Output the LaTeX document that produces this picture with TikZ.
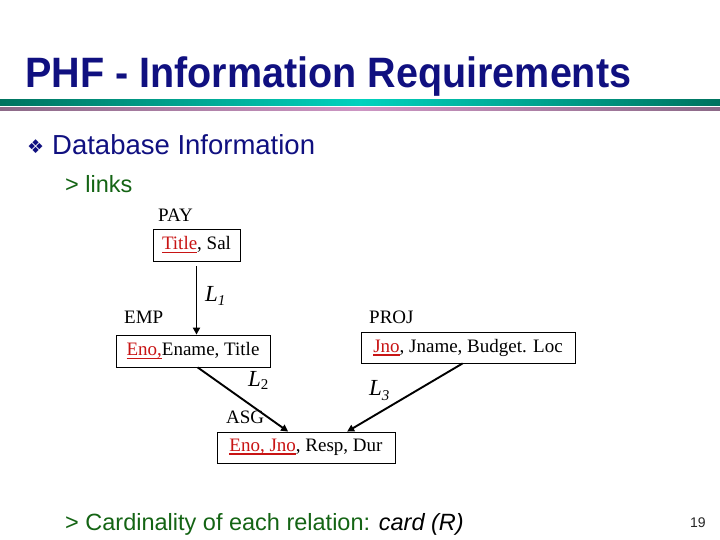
\documentclass[tikz,border=0pt]{standalone}
\usepackage{fontspec}
\setmainfont{Liberation Sans}
\newfontfamily\timesf{Liberation Serif}
\newfontfamily\djv{DejaVu Sans}
\usetikzlibrary{arrows.meta,calc}
\definecolor{navy}{RGB}{16,16,128}
\definecolor{dgreen}{RGB}{20,100,20}
\definecolor{tealdark}{RGB}{0,115,95}
\definecolor{tealmid}{RGB}{0,210,190}
\definecolor{mauvedark}{RGB}{140,105,135}
\definecolor{mauvemid}{RGB}{205,150,195}
\definecolor{keyred}{RGB}{200,20,20}
\newlength\keywd
\newcommand{\keyu}[1]{\settowidth{\keywd}{#1}\textcolor{keyred}{\rlap{\rule[-3.5pt]{\keywd}{1.8pt}}#1}}
\begin{document}
\begin{tikzpicture}[x=1pt,y=-1pt,
  relbox/.style={draw,line width=0.8pt,inner sep=0pt,font=\timesf\fontsize{19}{22}\selectfont},
  lbl/.style={anchor=base west,inner sep=0pt,font=\timesf\fontsize{19}{22}\selectfont},
  link/.style={line width=1.9pt,-{Triangle[length=7pt,width=7pt]}},
  llab/.style={anchor=base west,inner sep=0pt,font=\timesf\itshape\fontsize{23}{26}\selectfont}]
\useasboundingbox (0,0) rectangle (720,540);
% title
\node[anchor=base west,inner sep=0pt,text=navy,font=\bfseries\fontsize{42.5}{48}\selectfont] (title) at (25,88) {\scalebox{0.93}[1]{PHF - Information Requirements}};
% bands
\shade[left color=tealdark,right color=tealdark,middle color=tealmid] (0,100) rectangle (720,106);
\shade[left color=mauvedark,right color=mauvedark,middle color=mauvemid] (0,108) rectangle (720,111);
% bullets
\node[anchor=base west,inner sep=0pt,text=navy,font=\djv\fontsize{19}{22}\selectfont] (bul) at (27,154) {❖};
\node[anchor=base west,inner sep=0pt,text=navy,font=\fontsize{27.5}{32}\selectfont] (dbi) at (52,155) {Database Information};
\node[anchor=base west,inner sep=0pt,text=dgreen,font=\fontsize{23.5}{28}\selectfont] (links) at (65,193) {> links};
% relations
\node[lbl] (payl) at (158,222) {PAY};
\node[relbox,minimum width=87pt,minimum height=32pt] (pay) at (196.5,245) {\keyu{Title}, Sal};
\node[lbl] (empl) at (124,323) {EMP};
\node[relbox,minimum width=154pt,minimum height=32pt] (emp) at (193,351) {\keyu{Eno,}Ename, Title};
\node[lbl] (projl) at (369,323) {PROJ};
\node[relbox,minimum width=214pt,minimum height=31pt] (proj) at (468,347.5) {\keyu{Jno}, Jname, Budget. Loc};
\node[lbl] (asgl) at (226,423) {ASG};
\node[relbox,minimum width=178pt,minimum height=31pt] (asg) at (306,447.5) {\keyu{Eno, Jno}, Resp, Dur};
% links
\draw[link,shorten <=5pt] (pay.south) -- (pay.south |- emp.north);
\draw[link] ($(emp.south west)!0.53!(emp.south east)$) -- ($(asg.north west)!0.4!(asg.north east)$);
\draw[link] ($(proj.south west)!0.475!(proj.south east)$) -- ($(asg.north west)!0.73!(asg.north east)$);
\node[llab] (l1) at (205,301) {L\raisebox{-4pt}{\fontsize{15}{16}\selectfont 1}};
\node[llab] (l2) at (248,386) {L\raisebox{-3pt}{\upshape\fontsize{15}{16}\selectfont 2}};
\node[llab] (l3) at (369,395) {L\raisebox{-5pt}{\fontsize{15}{16}\selectfont 3}};
% bottom
\node[anchor=base west,inner sep=0pt,text=dgreen,font=\fontsize{23.5}{28}\selectfont] (card) at (65,530) {> Cardinality of each relation: \textcolor{black}{\itshape card (R)}};
\node[anchor=base west,inner sep=0pt,text=black!85,font=\fontsize{14}{16}\selectfont] (pg) at (690,527) {19};
\end{tikzpicture}
\end{document}
